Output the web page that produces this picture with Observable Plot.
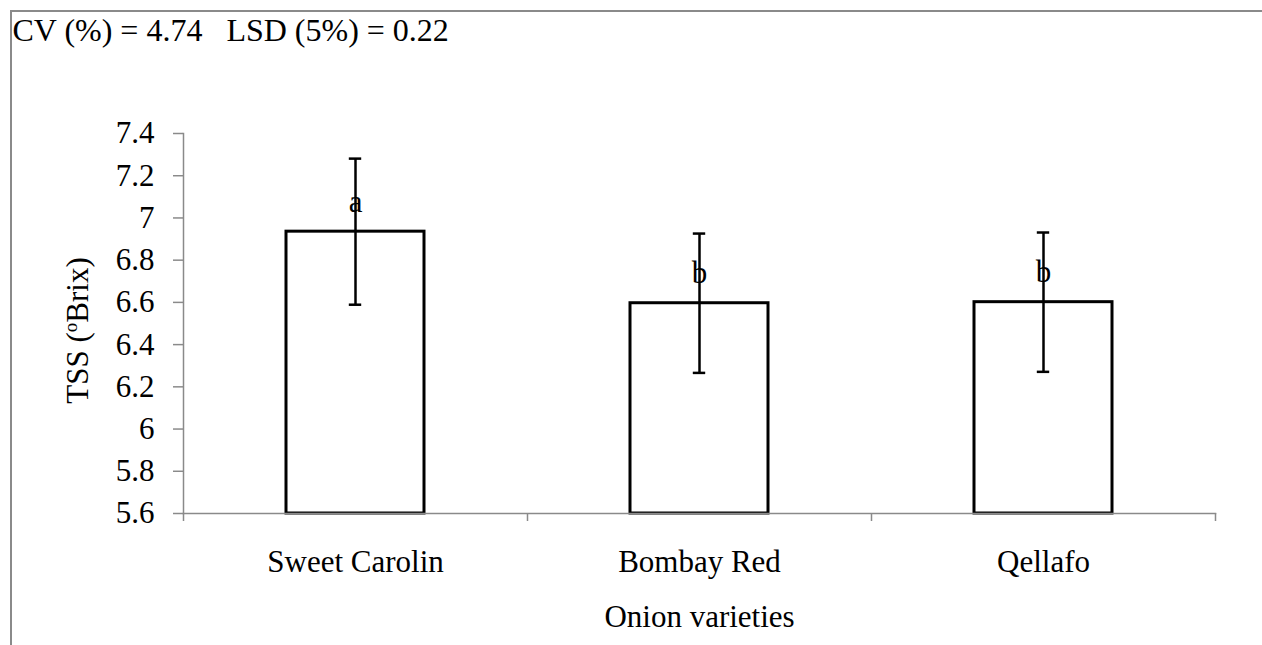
<!DOCTYPE html>
<html>
<head>
<meta charset="utf-8">
<script src="https://cdn.jsdelivr.net/npm/d3@7"></script>
<script src="https://cdn.jsdelivr.net/npm/@observablehq/plot@0.6"></script>
<style>
  html, body { margin: 0; padding: 0; background: #fff; }
  #wrap { position: relative; width: 1262px; height: 645px; overflow: hidden; }
  #border { position: absolute; left: 10px; top: 10px; width: 1300px; height: 700px;
            border-top: 2px solid #8a8a8a; border-left: 2px solid #8a8a8a; pointer-events: none; }
  svg text { font-family: 'Liberation Serif', 'Times New Roman', serif; }
</style>
</head>
<body>
<div id="wrap"><div id="border"></div></div>
<script>
// ---- data ----
const varieties = ["Sweet Carolin", "Bombay Red", "Qellafo"];
const means = [6.935, 6.596, 6.601];
const errors = [0.346, 0.33, 0.33];
const letters = ["a", "b", "b"];
const yDomain = [5.6, 7.4];
const yTicks = [5.6, 5.8, 6, 6.2, 6.4, 6.6, 6.8, 7, 7.2, 7.4];
const statsText = "CV (%) = 4.74   LSD (5%) = 0.22";
const xLabel = "Onion varieties";
const yLabel = "TSS (oBrix)";

const data = varieties.map((v, i) => ({variety: v, mean: means[i], se: errors[i], letter: letters[i]}));

const W = 1262, H = 645, mL = 183, mR = 47, mT = 133, mB = 132;
const step = (W - mL - mR) / varieties.length;
const bw = step * 0.4;
const capW = 12;
const gray = "#8a8a8a";
const font = "'Liberation Serif', 'Times New Roman', serif";

const chart = Plot.plot({
  width: W, height: H,
  marginLeft: mL, marginRight: mR, marginTop: mT, marginBottom: mB,
  style: {fontFamily: font, fontSize: "31px", background: "transparent", color: "black"},
  x: {domain: varieties, paddingInner: 0.6, paddingOuter: 0.3, axis: null},
  y: {domain: yDomain, axis: null},
  marks: [
    Plot.barY(data, {x: "variety", y1: () => yDomain[0], y2: "mean", fill: "white", stroke: "black", strokeWidth: 3}),
    Plot.ruleX(data, {x: "variety", y1: d => d.mean - d.se, y2: d => d.mean + d.se, stroke: "black", strokeWidth: 2.5}),
    Plot.tickY(data, {x: "variety", y: d => d.mean - d.se, stroke: "black", strokeWidth: 2.5, insetLeft: (bw - capW) / 2, insetRight: (bw - capW) / 2}),
    Plot.tickY(data, {x: "variety", y: d => d.mean + d.se, stroke: "black", strokeWidth: 2.5, insetLeft: (bw - capW) / 2, insetRight: (bw - capW) / 2}),
    Plot.text(data, {x: "variety", y: "mean", text: "letter", dy: -20, lineAnchor: "bottom", fill: "black", fontSize: 31, fontFamily: font}),
    Plot.frame({anchor: "left", stroke: gray, strokeWidth: 1.5}),
    Plot.frame({anchor: "bottom", stroke: gray, strokeWidth: 1.5}),
    Plot.axisY({ticks: yTicks, tickSize: 10, tickPadding: 19, stroke: gray, fill: "black", label: null,
                tickFormat: d => String(+d.toFixed(1)), fontSize: 31, fontFamily: font, strokeWidth: 1.5}),
    Plot.axisX({tickSize: 0, tickPadding: 36, label: null, fill: "black", fontSize: 31, fontFamily: font}),
    Plot.axisX({tickSize: 8, label: null, dx: -step / 2, stroke: gray, strokeWidth: 1.5, tickFormat: () => ""}),
    Plot.axisX([varieties[varieties.length - 1]], {tickSize: 8, label: null, dx: step / 2, stroke: gray, strokeWidth: 1.5, tickFormat: () => ""}),
    Plot.text([xLabel], {frameAnchor: "bottom", dy: 113, lineAnchor: "bottom", fill: "black", fontSize: 31, fontFamily: font}),
    Plot.text([yLabel], {frameAnchor: "left", dx: -96, dy: 7, rotate: -90, lineAnchor: "bottom", textAnchor: "middle", fill: "black", fontSize: 31, fontFamily: font, className: "ylab"}),
    Plot.text([statsText], {frameAnchor: "top-left", dx: 12 - mL, dy: 40 - mT, lineAnchor: "bottom", textAnchor: "start", fill: "black", fontSize: 32, fontFamily: font, className: "stats"})
  ]
});

// superscript "o" in the y label
const yl = chart.querySelector(".ylab text");
if (yl) {
  yl.textContent = "";
  yl.setAttribute("text-anchor", "middle");
  const parts = [["TSS (", null], ["o", "sup"], ["Brix)", "down"]];
  for (const [t, k] of parts) {
    const ts = document.createElementNS("http://www.w3.org/2000/svg", "tspan");
    ts.textContent = t;
    if (k === "sup") { ts.setAttribute("font-size", "19"); ts.setAttribute("dy", "-11"); }
    else if (k === "down") { ts.setAttribute("dy", "11"); }
    yl.appendChild(ts);
  }
}
// preserve spaces in stats text
const st = chart.querySelector(".stats text");
if (st) { st.setAttribute("xml:space", "preserve"); st.style.whiteSpace = "pre"; }

chart.style.position = "absolute";
chart.style.left = "0";
chart.style.top = "0";
document.getElementById("wrap").prepend(chart);
</script>
</body>
</html>
